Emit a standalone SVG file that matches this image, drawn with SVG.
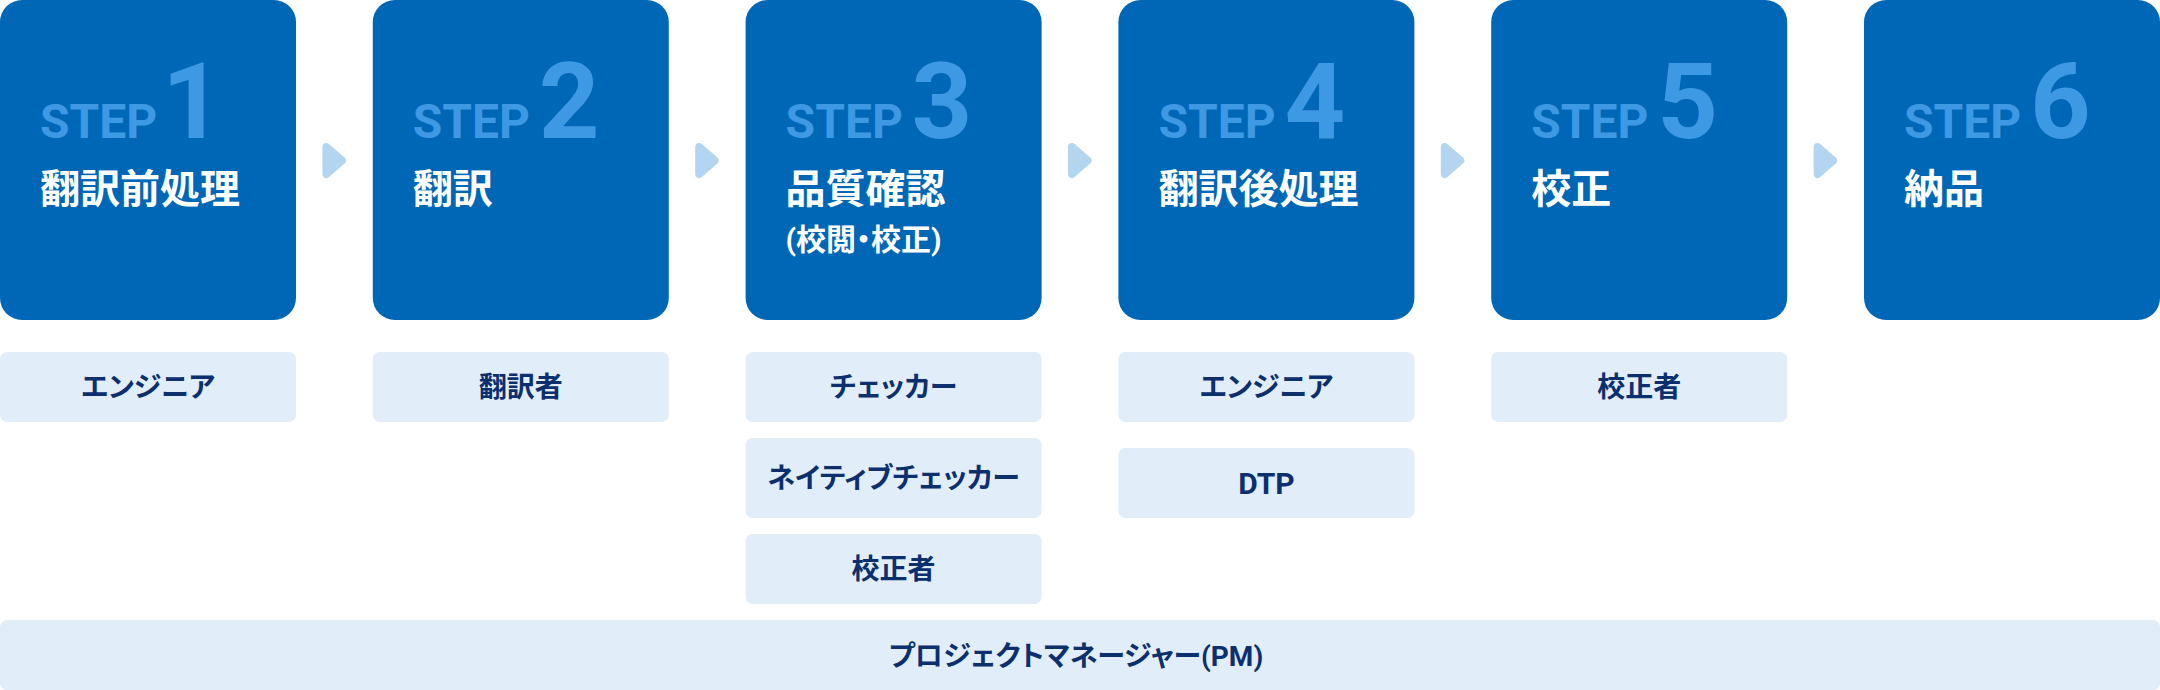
<svg xmlns="http://www.w3.org/2000/svg" xmlns:xlink="http://www.w3.org/1999/xlink" width="2160" height="690" viewBox="0 0 2160 690">
<style>
.card{fill:#0067b6}
.step{font-family:Roboto,"Liberation Sans","Noto Sans CJK JP",sans-serif;font-weight:700;font-size:48px;fill:#3d99e3}
.num{font-family:Roboto,"Liberation Sans","Noto Sans CJK JP",sans-serif;font-weight:700;font-size:106px;fill:#3d99e3}
.title{font-family:"Noto Sans CJK JP","Noto Sans",sans-serif;font-weight:700;font-size:40px;fill:#ffffff}
.sub{font-family:Roboto,"Noto Sans CJK JP",sans-serif;font-weight:700;font-size:30px;fill:#ffffff;font-feature-settings:"palt"}
.role{fill:#e1eefa}
.rtext{font-family:Roboto,"Noto Sans CJK JP",sans-serif;font-weight:700;font-size:28px;fill:#0c2f6e;text-anchor:middle;font-feature-settings:"palt"}
.latin{font-size:30px}
.arrow{fill:#b3d5f0;stroke:#b3d5f0;stroke-width:8;stroke-linejoin:round}
</style>
<defs>
<path id="chev" d="M-8,147 L7.5,160.5 L-8,174 Z"/>
</defs>
<g id="step1">
<rect class="card" x="0" y="0" width="296" height="320" rx="22"/>
<text class="step" x="40" y="138">STEP</text>
<text class="num" x="162" y="138">1</text>
<text class="title" x="40" y="203">翻訳前処理</text>
</g>
<g id="step2">
<rect class="card" x="372.8" y="0" width="296" height="320" rx="22"/>
<text class="step" x="412.8" y="138">STEP</text>
<text class="num" x="538.8" y="138">2</text>
<text class="title" x="412.8" y="203">翻訳</text>
</g>
<g id="step3">
<rect class="card" x="745.6" y="0" width="296" height="320" rx="22"/>
<text class="step" x="785.6" y="138">STEP</text>
<text class="num" x="911.6" y="138">3</text>
<text class="title" x="785.6" y="203">品質確認</text>
<text class="sub" x="785.6" y="250">(校閲・校正)</text>
</g>
<g id="step4">
<rect class="card" x="1118.4" y="0" width="296" height="320" rx="22"/>
<text class="step" x="1158.4" y="138">STEP</text>
<text class="num" x="1284.4" y="138">4</text>
<text class="title" x="1158.4" y="203">翻訳後処理</text>
</g>
<g id="step5">
<rect class="card" x="1491.2" y="0" width="296" height="320" rx="22"/>
<text class="step" x="1531.2" y="138">STEP</text>
<text class="num" x="1657.2" y="138">5</text>
<text class="title" x="1531.2" y="203">校正</text>
</g>
<g id="step6">
<rect class="card" x="1864" y="0" width="296" height="320" rx="22"/>
<text class="step" x="1904" y="138">STEP</text>
<text class="num" x="2030" y="138">6</text>
<text class="title" x="1904" y="203">納品</text>
</g>
<g id="connectors">
<use xlink:href="#chev" href="#chev" class="arrow" transform="translate(334.4,0)"/>
<use xlink:href="#chev" href="#chev" class="arrow" transform="translate(707.2,0)"/>
<use xlink:href="#chev" href="#chev" class="arrow" transform="translate(1080,0)"/>
<use xlink:href="#chev" href="#chev" class="arrow" transform="translate(1452.8,0)"/>
<use xlink:href="#chev" href="#chev" class="arrow" transform="translate(1825.6,0)"/>
</g>
<g id="role1-engineer">
<rect class="role" x="0" y="352" width="296" height="70" rx="7"/>
<text class="rtext" x="148" y="397">エンジニア</text>
</g>
<g id="role2-translator">
<rect class="role" x="372.8" y="352" width="296" height="70" rx="7"/>
<text class="rtext" x="520.8" y="397">翻訳者</text>
</g>
<g id="role3-checker">
<rect class="role" x="745.6" y="352" width="296" height="70" rx="7"/>
<text class="rtext" x="893.6" y="397">チェッカー</text>
</g>
<g id="role3-native">
<rect class="role" x="745.6" y="438" width="296" height="80" rx="7"/>
<text class="rtext" x="893.6" y="488">ネイティブチェッカー</text>
</g>
<g id="role3-proofreader">
<rect class="role" x="745.6" y="534" width="296" height="70" rx="7"/>
<text class="rtext" x="893.6" y="579">校正者</text>
</g>
<g id="role4-engineer">
<rect class="role" x="1118.4" y="352" width="296" height="70" rx="7"/>
<text class="rtext" x="1266.4" y="397">エンジニア</text>
</g>
<g id="role4-dtp">
<rect class="role" x="1118.4" y="448" width="296" height="70" rx="7"/>
<text class="rtext latin" x="1266.4" y="494">DTP</text>
</g>
<g id="role5-proofreader">
<rect class="role" x="1491.2" y="352" width="296" height="70" rx="7"/>
<text class="rtext" x="1639.2" y="397">校正者</text>
</g>
<g id="pm">
<rect class="role" x="0" y="620" width="2160" height="70" rx="7"/>
<text class="rtext" x="1076" y="666">プロジェクトマネージャー(PM)</text>
</g>
</svg>
